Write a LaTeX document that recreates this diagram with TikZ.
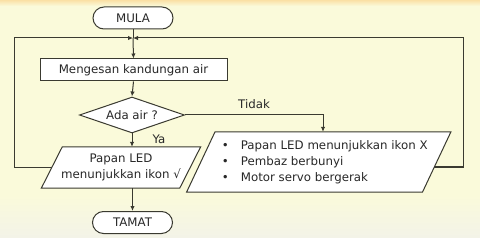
\documentclass[tikz,border=0pt]{standalone}
\usepackage{fontspec}
\setmainfont{DejaVu Sans}
\usetikzlibrary{shapes.geometric,shapes.misc,arrows.meta,calc}
\definecolor{bgc}{RGB}{250,250,218}
\definecolor{lnc}{RGB}{58,58,48}
\definecolor{glowc}{RGB}{250,224,165}
\definecolor{fadec}{RGB}{243,243,232}
\definecolor{txc}{RGB}{40,40,40}
\pgfdeclarelayer{bgl}
\pgfdeclarelayer{shp}
\pgfsetlayers{bgl,shp,main}
\begin{document}
\begin{tikzpicture}[x=1pt,y=-1pt,
  font=\fontsize{11.8}{16}\selectfont,
  every node/.style={text=txc},
  term/.style={rounded rectangle, draw=lnc, line width=1pt, fill=white,
    minimum width=80pt, minimum height=22pt, inner sep=0pt},
  proc/.style={rectangle, draw=lnc, line width=1pt, fill=white,
    minimum width=187pt, minimum height=22pt, inner sep=0pt},
  decis/.style={diamond, draw=lnc, line width=1pt, fill=white, aspect=2.9,
    minimum width=105pt, minimum height=36pt, inner sep=0pt},
  iobox/.style={rectangle, inner sep=0pt, align=center},
  para/.style={draw=lnc, line width=1pt, fill=white, line join=miter},
  arr/.style={draw=lnc, line width=1pt, -{Latex[length=5pt,width=4.5pt]}},
  lbl/.style={inner sep=1pt}]
\useasboundingbox (0,0) rectangle (480,238);
\begin{pgfonlayer}{bgl}
  \fill[bgc] (0,0) rectangle (480,238);
  \shade[top color=glowc, bottom color=bgc] (0,0) rectangle (480,6);
  \shade[top color=bgc, bottom color=fadec] (0,195) rectangle (480,238);
\end{pgfonlayer}

\node[term] (mula) at (133,18) {MULA};
\node[proc] (sense) at (133.5,70) {Mengesan kandungan air};
\node[decis] (dec) at (132,115) {Ada air ?};
\node[iobox, minimum width=138pt, minimum height=41pt] (lpar) at (121,167.5)
  {Papan LED\\menunjukkan ikon √};
\node[iobox, minimum width=235.5pt, minimum height=60pt] (rpar) at (318.75,162)
  {\hspace{12pt}\begin{tabular}{@{}l@{\hspace{12pt}}l@{}}
   •& Papan LED menunjukkan ikon X\\
   •& Pembaz berbunyi\\
   •& Motor servo bergerak
   \end{tabular}};
\node[term] (tamat) at (132.5,222.5) {TAMAT};

\begin{pgfonlayer}{shp}
  \draw[para] ([xshift=10.5pt]lpar.north west) -- ([xshift=10.5pt]lpar.north east)
    -- ([xshift=-10.5pt]lpar.south east) -- ([xshift=-10.5pt]lpar.south west) -- cycle;
  \draw[para] ([xshift=14.25pt]rpar.north west) -- ([xshift=14.25pt]rpar.north east)
    -- ([xshift=-14.25pt]rpar.south east) -- ([xshift=-14.25pt]rpar.south west) -- cycle;
\end{pgfonlayer}

\coordinate (j) at (133,38);
\coordinate (lc) at (14,38);
\coordinate (rc) at (463,38);

\draw[draw=lnc, line width=1pt] (mula.south) -- (j);
\draw[arr] (j) -- (sense.north);
\draw[arr] (sense.south) -- (dec.north);
\draw[arr] (dec.south) -- (dec.south |- lpar.north)
  node[lbl, pos=0.45, right=19pt] {Ya};
\draw[arr] (dec.east) -| ([xshift=4.25pt]rpar.north)
  node[lbl, pos=0.25, above=5pt] {Tidak};
\draw[arr] (tamat.north |- lpar.south) -- (tamat.north);
\draw[arr] (lpar.west) -| (lc) -- (j);
\draw[arr] ([xshift=-2.4pt,yshift=-5pt]rpar.east) -| (rc) -- (j);
\end{tikzpicture}
\end{document}
